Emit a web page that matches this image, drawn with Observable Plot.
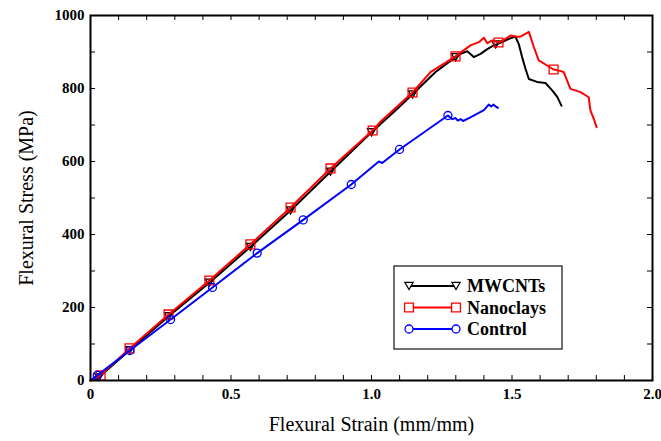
<!DOCTYPE html>
<html><head><meta charset="utf-8">
<script src="https://cdn.jsdelivr.net/npm/d3@7"></script>
<script src="https://cdn.jsdelivr.net/npm/@observablehq/plot@0.6"></script>
<style>body{margin:0;background:#fff}#chart{width:661px;height:441px}</style>
</head><body><div id="chart"></div>
<script>
// ---- data ----
const seriesNames = ["MWCNTs", "Nanoclays", "Control"];

const mwStrain = [0,0.03,0.139,0.278,0.423,0.569,0.712,0.854,1.0,1.091,1.146,1.228,1.299,1.317,1.341,1.364,1.388,1.412,1.435,1.459,1.489,1.512,1.524,1.536,1.548,1.560,1.589,1.619,1.643,1.661,1.676];
const mwStress = [0,9,83,176,268,366,466,572,680,744,784,845,886,895,902,886,895,908,918,925,936,942,922,886,854,826,818,815,795,777,753];
const mwMarkStrain = [0.03,0.139,0.278,0.423,0.569,0.712,0.854,1.0,1.146,1.299,1.442];
const mwMarkStress = [9,83,176,268,366,466,572,680,784,886,921];

const ncStrain = [0,0.036,0.139,0.278,0.423,0.569,0.712,0.854,1.004,1.032,1.146,1.21,1.299,1.352,1.382,1.40,1.412,1.43,1.452,1.477,1.495,1.518,1.53,1.560,1.578,1.595,1.625,1.648,1.667,1.684,1.708,1.744,1.773,1.779,1.791,1.801];
const ncStress = [0,14,88,181,274,373,474,581,685,709,789,845,888,918,927,939,924,932,926,936,945,942,942,955,913,877,863,852,849,845,799,790,776,740,717,694];
const ncMarkStrain = [0.036,0.139,0.278,0.423,0.569,0.712,0.854,1.004,1.146,1.299,1.452,1.648];
const ncMarkStress = [14,88,181,274,373,474,581,685,789,888,926,852];

const ctStrain = [0,0.024,0.14,0.285,0.434,0.593,0.757,0.928,1.026,1.038,1.0996,1.272,1.287,1.299,1.307,1.317,1.326,1.352,1.40,1.417,1.426,1.435,1.441,1.45];
const ctStress = [0,14,82,167,255,349,440,537,600,596,633,726,716,719,712,716,711,721,741,756,751,756,751,747];
const ctMarkStrain = [0.024,0.14,0.285,0.434,0.593,0.757,0.928,1.0996,1.272];
const ctMarkStress = [14,82,167,255,349,440,537,633,726];

const xLabelTicks = [0, 0.5, 1.0, 1.5, 2.0];
const xTickLabels = ["0", "0.5", "1.0", "1.5", "2.0"];
const xMinorTicks = d3.range(0, 21).map(i => i / 10);
const yLabelTicks = [0, 200, 400, 600, 800, 1000];
const yTickLabels = ["0", "200", "400", "600", "800", "1000"];
const yMinorTicks = d3.range(0, 11).map(i => i * 100);

const xTitle = "Flexural Strain (mm/mm)";
const yTitle = "Flexural Stress (MPa)";

// ---- build tables ----
const zip = (xs, ys) => xs.map((x, i) => ({x, y: ys[i]}));
const mw = zip(mwStrain, mwStress), mwM = zip(mwMarkStrain, mwMarkStress);
const nc = zip(ncStrain, ncStress), ncM = zip(ncMarkStrain, ncMarkStress);
const ct = zip(ctStrain, ctStress), ctM = zip(ctMarkStrain, ctMarkStress);

const triDown = {draw(ctx, size) {
  const s = Math.sqrt(size) * 1.15, h = s * 0.866;
  ctx.moveTo(-s / 2, -h / 2); ctx.lineTo(s / 2, -h / 2); ctx.lineTo(0, h / 2); ctx.closePath();
}};
const colors = {MWCNTs: "#000000", Nanoclays: "#ff0000", Control: "#0000ff"};
const W = 661, H = 441, mL = 90, mR = 9, mT = 15, mB = 61;
const tick = 5;
const font = "Liberation Serif";

const plot = Plot.plot({
  width: W, height: H,
  marginLeft: mL, marginRight: mR, marginTop: mT, marginBottom: mB,
  style: {background: "white", color: "black"},
  x: {domain: [0, 2]},
  y: {domain: [0, 1000]},
  marks: [
    Plot.gridX(xMinorTicks, {insetTop: H - mT - mB - tick, stroke: "black", strokeOpacity: 1, strokeWidth: 1}),
    Plot.gridX(xMinorTicks, {insetBottom: H - mT - mB - tick, stroke: "black", strokeOpacity: 1, strokeWidth: 1}),
    Plot.gridY(yMinorTicks, {insetRight: W - mL - mR - tick, stroke: "black", strokeOpacity: 1, strokeWidth: 1}),
    Plot.gridY(yMinorTicks, {insetLeft: W - mL - mR - tick, stroke: "black", strokeOpacity: 1, strokeWidth: 1}),
    Plot.axisX(xLabelTicks, {tickSize: 0, tickPadding: 8, label: null, fontSize: 15, fontWeight: "bold", fontFamily: font,
      tickFormat: d => xTickLabels[xLabelTicks.indexOf(d)]}),
    Plot.axisY(yLabelTicks, {tickSize: 0, tickPadding: 6, label: null, fontSize: 15, fontWeight: "bold", fontFamily: font,
      tickFormat: d => yTickLabels[yLabelTicks.indexOf(d)]}),
    Plot.line(mw, {x: "x", y: "y", stroke: colors.MWCNTs, strokeWidth: 2}),
    Plot.dot(mwM, {x: "x", y: "y", stroke: colors.MWCNTs, symbol: triDown, r: 4, strokeWidth: 1.3, fill: "none"}),
    Plot.line(nc, {x: "x", y: "y", stroke: colors.Nanoclays, strokeWidth: 2}),
    Plot.dot(ncM, {x: "x", y: "y", stroke: colors.Nanoclays, symbol: "square", r: 5, strokeWidth: 1.3, fill: "none"}),
    Plot.line(ct, {x: "x", y: "y", stroke: colors.Control, strokeWidth: 2}),
    Plot.dot(ctM, {x: "x", y: "y", stroke: colors.Control, symbol: "circle", r: 4, strokeWidth: 1.3, fill: "none"}),
    Plot.frame({stroke: "black", strokeWidth: 2}),
    Plot.text([xTitle], {text: d => d, frameAnchor: "bottom", textAnchor: "middle", dy: 50, fontSize: 20, fontFamily: font}),
    Plot.text([yTitle], {text: d => d, frameAnchor: "left", textAnchor: "middle", dx: -64, rotate: -90, fontSize: 20, fontFamily: font})
  ]
});
document.getElementById("chart").appendChild(plot);

// ---- legend (inside plot area) ----
const svg = d3.select(plot);
const lg = svg.append("g");
const lx = 394, ly = 266, lw = 168, lh = 83;
lg.append("rect").attr("x", lx).attr("y", ly).attr("width", lw).attr("height", lh)
  .attr("fill", "white").attr("stroke", "#222").attr("stroke-width", 1.3);
const symbols = {MWCNTs: triDown, Nanoclays: d3.symbolSquare, Control: d3.symbolCircle};
const rs = {MWCNTs: 4, Nanoclays: 5, Control: 4};
seriesNames.forEach((name, i) => {
  const cy = ly + 20 + i * 21.5;
  const x1 = lx + 15, x2 = lx + 62;
  lg.append("line").attr("x1", x1).attr("x2", x2).attr("y1", cy).attr("y2", cy)
    .attr("stroke", colors[name]).attr("stroke-width", 2);
  [x1, x2].forEach(px => {
    lg.append("path").attr("d", d3.symbol(symbols[name], Math.PI * rs[name] * rs[name])())
      .attr("transform", `translate(${px},${cy})`).attr("fill", "white")
      .attr("stroke", colors[name]).attr("stroke-width", 1.3);
  });
  lg.append("text").attr("x", lx + 73).attr("y", cy).attr("dy", "0.35em")
    .attr("text-anchor", "start")
    .attr("font-family", font).attr("font-weight", "bold").attr("font-size", 18)
    .attr("fill", "black").text(name);
});
</script>
</body></html>
